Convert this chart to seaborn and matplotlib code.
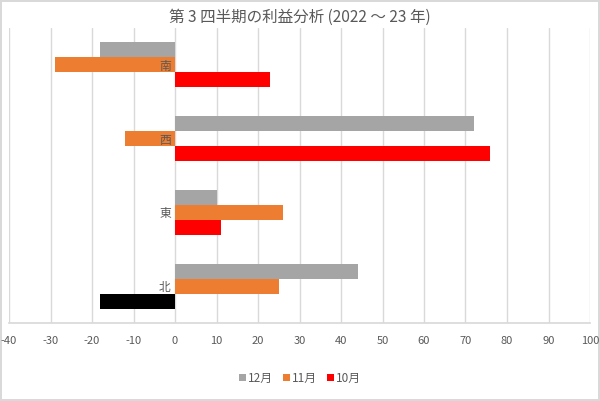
import matplotlib
matplotlib.use("Agg")
import matplotlib.pyplot as plt
import seaborn as sns
import pandas as pd

regions = ["南", "西", "東", "北"]
months = ["12月", "11月", "10月"]
dec = [-18, 72, 10, 44]
nov = [-29, -12, 26, 25]
octo = [23, 76, 11, -18]
xticks = list(range(-40, 101, 10))
title = "第 3 四半期の利益分析 (2022 〜 23 年)"
colors = ["#A5A5A5", "#ED7D31", "#FF0000"]

sns.set_theme(style="white")
plt.rcParams["font.family"] = ["Noto Sans CJK JP", "DejaVu Sans"]

rows = []
for m, vals in zip(months, [dec, nov, octo]):
    for r, v in zip(regions, vals):
        rows.append({"region": r, "month": m, "value": v})
df = pd.DataFrame(rows)

fig = plt.figure(figsize=(6, 4.01), dpi=100)
fig.patch.set_edgecolor("#D9D9D9")
fig.patch.set_linewidth(1.5)
ax = fig.add_axes([9/600, 1-323/401, 581/600, 295/401])

sns.barplot(data=df, y="region", x="value", hue="month", order=regions,
            hue_order=months, palette=colors, width=0.61, orient="h",
            linewidth=0, saturation=1, ax=ax, legend=True)

# invert-if-negative for 10月 series
oct_container = ax.containers[2]
for patch, v in zip(oct_container.patches, octo):
    if v < 0:
        patch.set_facecolor("black")

ax.set_xlim(-40, 100)
ax.set_xticks(xticks)
ax.set_xticklabels([str(t) for t in xticks])
ax.set_xlabel("")
ax.set_ylabel("")
ax.grid(axis="x", color="#D9D9D9", linewidth=1)
ax.set_axisbelow(True)
for s in ["top", "right"]:
    ax.spines[s].set_visible(False)
ax.spines["bottom"].set_color("#D9D9D9")
ax.spines["left"].set_position(("data", 0))
ax.spines["left"].set_visible(False)
ax.tick_params(axis="x", length=0, pad=9, labelsize=8, labelcolor="#595959")
ax.tick_params(axis="y", length=0, pad=3, labelsize=8.5, labelcolor="#595959")
ax.yaxis.set_zorder(5)

leg = ax.get_legend()
handles = leg.legend_handles
leg.remove()
fig.legend(handles, months, loc="center", bbox_to_anchor=(300/600, 1-378/401),
           ncol=3, frameon=False, fontsize=8.5, labelcolor="#595959",
           handlelength=0.6, handleheight=0.6, handletextpad=0.2, columnspacing=0.8)

fig.text(0.5, 1-17/401, title, ha="center", va="center", fontsize=11.2, color="#595959")

fig.savefig("out.png", dpi=100)
